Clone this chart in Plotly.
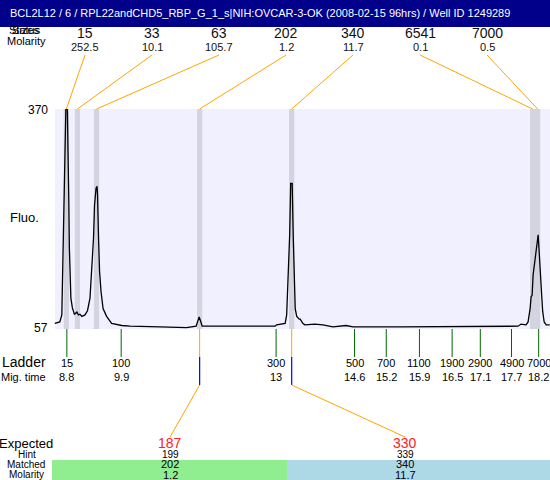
import plotly.graph_objects as go

W, H = 550, 480
FONT = "Arial, Liberation Sans, sans-serif"

title_text = "BCL2L12 / 6 / RPL22andCHD5_RBP_G_1_s|NIH:OVCAR-3-OK (2008-02-15 96hrs) / Well ID 1249289"

# Electropherogram trace (migration time s, fluorescence)
trace_time = [8.61, 8.71, 8.75, 8.78, 8.80, 8.82, 8.83, 8.86, 8.87, 8.89, 8.90, 8.92, 8.93, 8.96,
              9.00, 9.05, 9.08, 9.11, 9.15, 9.21, 9.26, 9.31, 9.34, 9.38, 9.40, 9.43, 9.45, 9.46,
              9.48, 9.50, 9.53, 9.57, 9.64, 9.74, 9.94, 10.11, 10.70, 11.23, 11.42, 11.45, 11.48,
              11.51, 11.54, 12.29, 12.99, 13.02, 13.12, 13.19, 13.22, 13.25, 13.28, 13.30, 13.33,
              13.35, 13.37, 13.39, 13.42, 13.47, 13.49, 13.54, 13.58, 13.78, 13.94, 14.14, 14.40,
              14.54, 15.47, 16.67, 17.82, 17.88, 17.98, 18.02, 18.06, 18.08, 18.10, 18.12, 18.16,
              18.20, 18.22, 18.24, 18.26, 18.29, 18.31, 18.34, 18.38, 18.45]
trace_fluo = [65, 67, 77, 172, 233, 329, 370, 369, 280, 233, 172, 130, 101, 87,
              78, 81, 77, 78, 75, 77, 83, 101, 139, 186, 233, 257, 260, 248,
              186, 139, 110, 86, 75, 65, 62, 61, 60, 59, 61, 67, 74,
              68, 61, 61, 61, 63, 64, 65, 77, 134, 191, 264, 264,
              191, 124, 86, 75, 71, 71, 65, 63, 64, 63, 60, 62,
              60, 60, 60, 61, 64, 63, 67, 86, 103, 105, 134, 158,
              181, 191, 167, 134, 105, 82, 67, 63, 63]

# Detected peaks
peak_sizes = [15, 33, 63, 202, 340, 6541, 7000]
peak_molarity = [252.5, 10.1, 105.7, 1.2, 11.7, 0.1, 0.5]
peak_times = [8.84, 9.06, 9.44, 11.49, 13.32, 18.11, 18.21]

# Ladder
ladder_sizes = [15, 100, 300, 500, 700, 1100, 1900, 2900, 4900, 7000]
ladder_times = [8.85, 9.93, 13.01, 14.57, 15.20, 15.86, 16.51, 17.07, 17.69, 18.23]

# Expected fragments
expected_sizes = [187, 330]
hint_sizes = [199, 339]
matched_sizes = [202, 340]
matched_molarity = [1.2, 11.7]
matched_times = [11.49, 13.32]
matched_colors = ["#90EE90", "#ADD8E6"]

y_min, y_max = 57, 370

# ---- layout helpers (pixel geometry) ----
T0, T1 = 7.5209, 18.4555          # x-axis range spanning the full width


def px(xp):
    return xp / W


def py(yp):
    return 1 - yp / H


def px_t(xp):
    return T0 + xp * (T1 - T0) / W


PLOT_TOP, PLOT_BOT, PLOT_LEFT = 109, 329, 55

fig = go.Figure()
fig.add_trace(go.Scatter(x=trace_time, y=trace_fluo, mode="lines",
                         line=dict(color="black", width=1.3), hoverinfo="skip",
                         showlegend=False))

shapes = []
annotations = []


def text(x, y, s, size, color="black", xanchor="center", xref="paper"):
    annotations.append(dict(xref=xref, yref="paper", x=x, y=y, text=s, showarrow=False,
                            xanchor=xanchor, yanchor="middle", borderpad=0,
                            font=dict(family=FONT, size=size, color=color)))


# title bar
shapes.append(dict(type="rect", xref="paper", yref="paper", x0=0, x1=1, y0=py(27), y1=1,
                   fillcolor="#00008B", line=dict(width=0), layer="below"))
text(px(260), py(13), title_text, 11, "white")

# plot background
shapes.append(dict(type="rect", xref="paper", yref="paper", x0=px(PLOT_LEFT), x1=1,
                   y0=py(PLOT_BOT), y1=py(PLOT_TOP), fillcolor="#F0F0FF",
                   line=dict(width=0), layer="below"))

# peak bands
for t in peak_times:
    shapes.append(dict(type="rect", xref="x", yref="paper", x0=t - 0.052, x1=t + 0.052,
                       y0=py(PLOT_BOT), y1=py(PLOT_TOP), fillcolor="#D4D4E0",
                       line=dict(width=0), layer="below"))

# top labels and connectors
text(px(25), py(30), "Sizes", 11)
text(px(25), py(30), "Status", 11)
text(px(26), py(41), "Molarity", 11)
for i, (s, m, t) in enumerate(zip(peak_sizes, peak_molarity, peak_times)):
    lx = 85 + 67 * i
    text(px(lx), py(33), str(s), 14, "#111")
    text(px(lx), py(47), f"{m}", 11, "#111")
    shapes.append(dict(type="line", xref="x", yref="paper", x0=px_t(lx), y0=py(55),
                       x1=t, y1=py(PLOT_TOP), line=dict(color="#FFA500", width=1)))

# y axis labels
text(px(49), py(110), str(y_max), 12, xanchor="right")
text(px(49), py(328), str(y_min), 12, xanchor="right")
text(px(24), py(218), "Fluo.", 13)

# ladder
text(px(47), py(362), "Ladder", 14, xanchor="right")
text(px(47), py(377), "Mig. time", 11, xanchor="right")
for s, t in zip(ladder_sizes, ladder_times):
    shapes.append(dict(type="line", xref="x", yref="paper", x0=t, x1=t, y0=py(PLOT_BOT),
                       y1=py(357), line=dict(color="#006600", width=1)))
    text(t, py(363), str(s), 11, xref="x")
    lab = f"{t:.1f}"
    if lab.endswith(".0"):
        lab = lab[:-2]
    text(t, py(377), lab, 11, xref="x")

# expected / matched
exp_x = [170, 405]
rect_x = [(52, 287), (287, 550)]
text(px(26), py(443), "Expected", 13)
text(px(27), py(454), "Hint", 10)
text(px(26), py(464), "Matched", 10)
text(px(26), py(474), "Molarity", 10)
for i in range(len(expected_sizes)):
    t = matched_times[i]
    ex = exp_x[i]
    shapes.append(dict(type="rect", xref="paper", yref="paper", x0=px(rect_x[i][0]),
                       x1=px(rect_x[i][1]), y0=0, y1=py(460), fillcolor=matched_colors[i],
                       line=dict(width=0), layer="below"))
    shapes.append(dict(type="line", xref="x", yref="paper", x0=t, x1=t, y0=py(PLOT_BOT),
                       y1=py(357), line=dict(color="#FFA500", width=1)))
    shapes.append(dict(type="line", xref="x", yref="paper", x0=t, x1=t, y0=py(357),
                       y1=py(385), line=dict(color="#0000FF", width=1.2)))
    shapes.append(dict(type="line", xref="x", yref="paper", x0=t, x1=px_t(ex), y0=py(385),
                       y1=py(437), line=dict(color="#FFA500", width=1)))
    text(px(ex), py(443), str(expected_sizes[i]), 14, "#FF2020")
    text(px(ex), py(454), str(hint_sizes[i]), 10)
    text(px(ex), py(464), str(matched_sizes[i]), 11)
    text(px(ex), py(475), str(matched_molarity[i]), 11)

fig.update_layout(
    width=W, height=H,
    margin=dict(l=0, r=0, t=0, b=0),
    paper_bgcolor="white", plot_bgcolor="rgba(0,0,0,0)",
    xaxis=dict(domain=[0, 1], range=[T0, T1], visible=False, fixedrange=True),
    yaxis=dict(domain=[py(PLOT_BOT), py(PLOT_TOP)], range=[y_min, y_max], visible=False,
               fixedrange=True),
    shapes=shapes, annotations=annotations, showlegend=False,
)

fig.write_html("out.html", config={"displayModeBar": False},
               post_script="document.body.style.margin='0';"
                           "document.body.style.overflow='hidden';")
